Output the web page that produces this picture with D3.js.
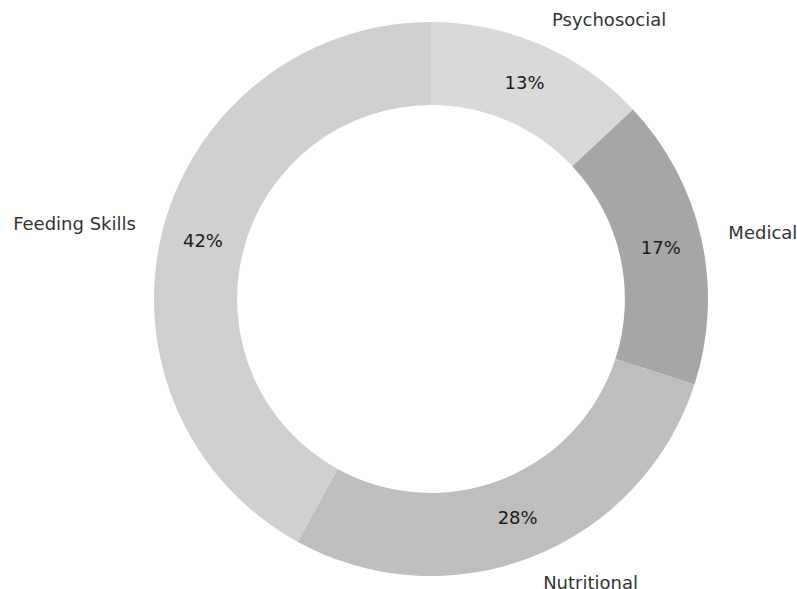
<!DOCTYPE html>
<html>
<head>
<meta charset="utf-8">
<script src="https://cdn.jsdelivr.net/npm/d3@7"></script>
<style>
    body { margin: 0; background: #fff; }
    svg { display: block; font-family: "DejaVu Sans", sans-serif; }
</style>
</head>
<body>
<svg id="chart"></svg>
<script>
const categories = ['Psychosocial', 'Medical', 'Nutritional', 'Feeding Skills']
const shares = [13, 17, 28, 42]
const sliceColors = ['#d9d9d9', '#a6a6a6', '#bebebe', '#d0d0d0']

const WIDTH = 797
const HEIGHT = 589
const CX = 431
const CY = 299
const OUTER = 277
const INNER = OUTER * 0.7

const svg = d3.select('#chart')
    .attr('width', WIDTH)
    .attr('height', HEIGHT)
    .attr('viewBox', [0, 0, WIDTH, HEIGHT].join(' '))

const g = svg.append('g').attr('transform', `translate(${CX},${CY})`)

const pie = d3.pie().sort(null).value(d => d)
const arcs = pie(shares)

const arc = d3.arc().innerRadius(INNER).outerRadius(OUTER)
const total = d3.sum(shares)

g.selectAll('path')
    .data(arcs)
    .join('path')
    .attr('d', arc)
    .attr('fill', (d, i) => sliceColors[i])

// percentage labels, in the middle of the ring
const pctR = OUTER * 0.85
g.selectAll('text.pct')
    .data(arcs)
    .join('text')
    .attr('class', 'pct')
    .attr('x', d => pctR * Math.sin((d.startAngle + d.endAngle) / 2))
    .attr('y', d => -pctR * Math.cos((d.startAngle + d.endAngle) / 2))
    .attr('text-anchor', 'middle')
    .attr('dominant-baseline', 'central')
    .attr('font-size', 18)
    .attr('fill', '#1a1a1a')
    .text(d => Math.round(d.value / total * 100) + '%')

// category labels outside
const labelR = OUTER * 1.1
g.selectAll('text.cat')
    .data(arcs)
    .join('text')
    .attr('class', 'cat')
    .each(function (d, i) {
        const a = (d.startAngle + d.endAngle) / 2
        const x = labelR * Math.sin(a)
        d3.select(this)
            .attr('x', x)
            .attr('y', -labelR * Math.cos(a))
            .attr('text-anchor', x >= 0 ? 'start' : 'end')
    })
    .attr('dominant-baseline', 'central')
    .attr('font-size', 18)
    .attr('fill', '#333')
    .text((d, i) => categories[i])
</script>
</body>
</html>
